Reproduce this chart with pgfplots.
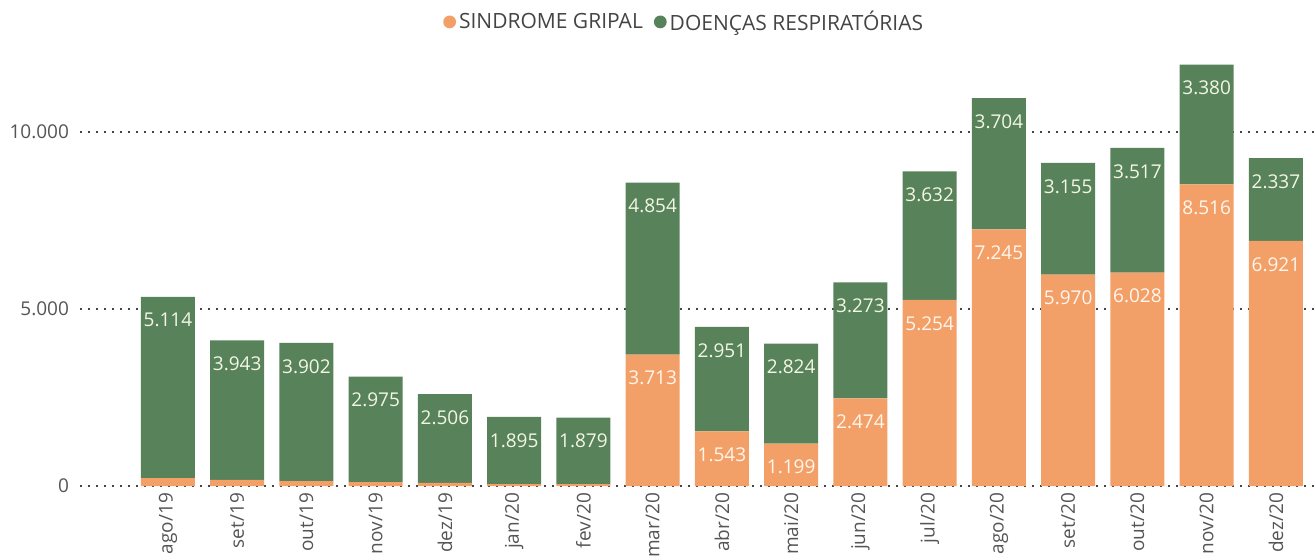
\documentclass[border=0pt]{standalone}
\usepackage{pgfplots}
\pgfplotsset{compat=1.18}
\usepackage{pgfplotstable}
\usepackage{fontspec}
\setmainfont{Open Sans}
\definecolor{sg}{HTML}{F3A068}
\definecolor{dr}{HTML}{57825A}
\definecolor{tickc}{HTML}{555555}
\definecolor{legc}{HTML}{444444}
\definecolor{grc}{HTML}{444444}
\definecolor{lblg}{HTML}{F3F7E4}
\definecolor{lblo}{HTML}{FFF6EE}

\pgfplotstableread[col sep=comma]{
x,so,sl,dr,dl
0,225,,5114,5.114
1,170,,3943,3.943
2,140,,3902,3.902
3,110,,2975,2.975
4,85,,2506,2.506
5,55,,1895,1.895
6,55,,1879,1.879
7,3713,3.713,4854,4.854
8,1543,1.543,2951,2.951
9,1199,1.199,2824,2.824
10,2474,2.474,3273,3.273
11,5254,5.254,3632,3.632
12,7245,7.245,3704,3.704
13,5970,5.970,3155,3.155
14,6028,6.028,3517,3.517
15,8516,8.516,3380,3.380
16,6921,6.921,2337,2.337
}\datatable

\begin{document}
\begin{tikzpicture}
\path[use as bounding box] (0,0) rectangle (657pt,279.5pt);
\begin{axis}[
  at={(40pt,36.5pt)}, anchor=south west,
  scale only axis, width=617pt, height=212.5pt,
  ybar stacked, bar width=27pt,
  xmin=-1.27, xmax=16.55, ymin=0, ymax=12000,
  scaled y ticks=false,
  xtick={0,...,16},
  xticklabels={ago/19,set/19,out/19,nov/19,dez/19,jan/20,fev/20,mar/20,abr/20,mai/20,jun/20,jul/20,ago/20,set/20,out/20,nov/20,dez/20},
  x tick label style={rotate=90, anchor=east, font=\fontsize{9.5}{11}\selectfont, text=tickc},
  ytick={0,5000,10000}, yticklabels={0,5.000,10.000},
  y tick label style={font=\fontsize{9.5}{11}\selectfont, text=tickc, xshift=-2pt},
  ymajorgrids,
  major grid style={grc, line width=1pt, dash pattern=on 0.9pt off 3.1pt},
  axis line style={draw=none},
  major tick length=0pt,
  clip=false,
  legend columns=2,
  legend style={at={(0.49,1.092)}, anchor=center, draw=none, fill=none,
    font=\fontsize{10.5}{12}\selectfont, text=legc,
    /tikz/every even column/.append style={column sep=4pt},
    inner sep=0pt, nodes={inner sep=1.5pt}},
]
\addplot[fill=sg, draw=none,
  nodes near coords, point meta=explicit symbolic,
  visualization depends on={\thisrow{so} \as \segh},
  every node near coord/.append style={anchor=north, yshift={\segh*0.0088542*1pt-6pt}, inner sep=2pt,
    font=\fontsize{9.5}{11}\selectfont, text=lblo},
  legend image code/.code={\fill[sg] (0pt,0pt) circle (3.2pt);}]
  table[x=x, y=so, meta=sl] {\datatable};
\addlegendentry{SINDROME GRIPAL}
\addplot[fill=dr, draw=none,
  nodes near coords, point meta=explicit symbolic,
  visualization depends on={\thisrow{dr} \as \segh},
  every node near coord/.append style={anchor=north, yshift={\segh*0.0088542*1pt-6pt}, inner sep=2pt,
    font=\fontsize{9.5}{11}\selectfont, text=lblg},
  legend image code/.code={\fill[dr] (0pt,0pt) circle (3.2pt);}]
  table[x=x, y=dr, meta=dl] {\datatable};
\addlegendentry{DOENÇAS RESPIRATÓRIAS}
\end{axis}
\end{tikzpicture}
\end{document}
